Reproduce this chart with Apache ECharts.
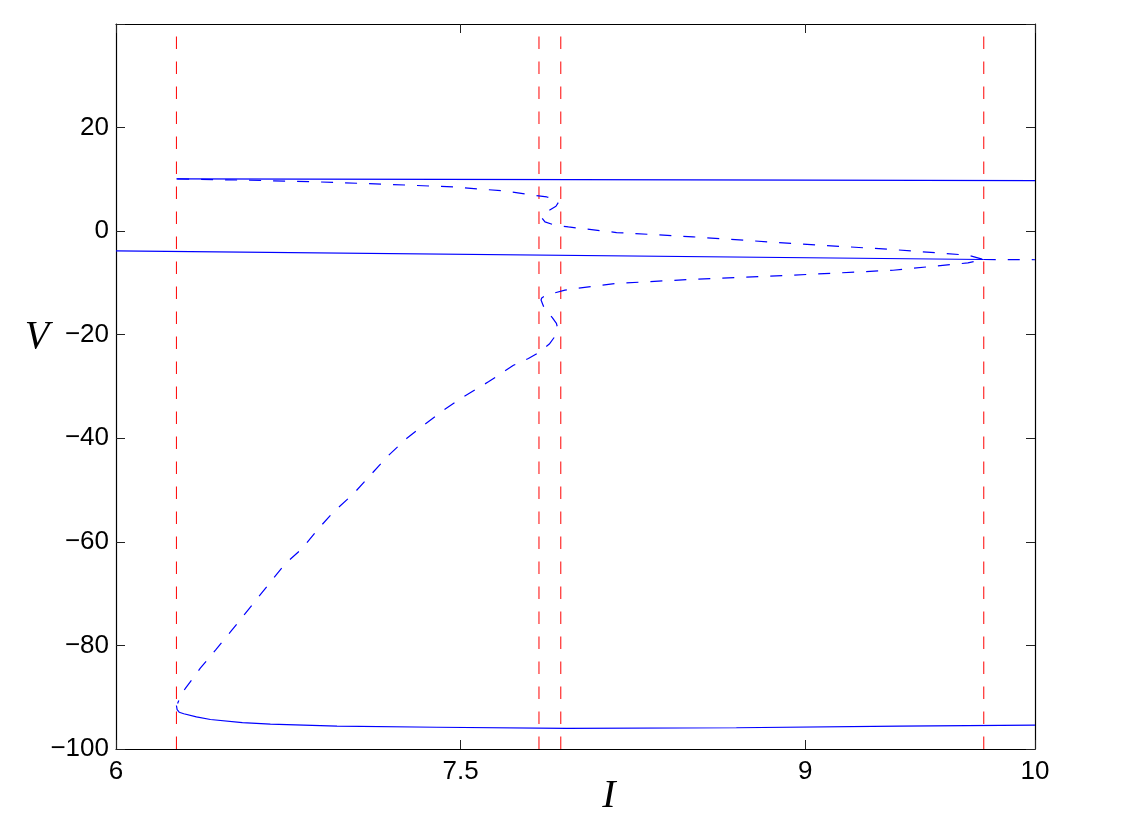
<!DOCTYPE html>
<html>
<head>
<meta charset="utf-8">
<script src="https://cdn.jsdelivr.net/npm/echarts@6/dist/echarts.min.js"></script>
<style>html,body{margin:0;padding:0;background:#fff;}#chart{width:1131px;height:831px;}</style>
</head>
<body>
<div id="chart"></div>
<script>
// Bifurcation parameter values (red dashed lines)
const bifurcationI = [6.263, 7.841, 7.936, 9.777];
// Axis ticks
const xTicks = [6, 7.5, 9, 10];
const yTicks = [-100, -80, -60, -40, -20, 0, 20, 40];
// Stable branches (solid)
const upperStable = [[6.263, 10.1], [8.0, 9.95], [10, 9.77]];
const middleStable = [[6, -3.8], [9.777, -5.48]];
const lowerStable = [[6.263, -91.6], [6.266, -92.4], [6.275, -92.9], [6.295, -93.2], [6.35, -93.8], [6.411, -94.3], [6.55, -94.9], [6.672, -95.2], [6.962, -95.6], [7.397, -95.8], [7.962, -96.0], [8.7, -95.9], [9.41, -95.6], [10, -95.4]];
// Unstable branches (dashed)
const middleUnstable = [[9.777, -5.48], [10, -5.52]];
const unstableMax = [[6.266, 10.08], [6.585, 9.83], [6.889, 9.5], [7.179, 9.05], [7.468, 8.53], [7.686, 7.77], [7.875, 6.6], [7.911, 6.16], [7.926, 5.58], [7.915, 4.81], [7.863, 3.4], [7.852, 2.68], [7.867, 1.78], [7.911, 1.14], [7.969, 0.81], [8.179, -0.27], [8.512, -1.1], [8.947, -2.4], [9.382, -3.55], [9.708, -4.65], [9.777, -5.48]];
const unstableMin = [[9.777, -5.48], [9.708, -6.13], [9.382, -7.55], [8.947, -8.5], [8.512, -9.3], [8.179, -10.1], [7.998, -11.1], [7.954, -11.4], [7.899, -12.05], [7.867, -12.5], [7.853, -12.9], [7.85, -13.3], [7.864, -14.9], [7.899, -16.7], [7.917, -17.8], [7.922, -18.7], [7.911, -20.3], [7.886, -21.8], [7.838, -23.5], [7.795, -24.6], [7.73, -25.9], [7.621, -29.1], [7.512, -32.0], [7.425, -34.6], [7.338, -37.5], [7.266, -40.0], [7.186, -43.3], [7.114, -46.8], [7.034, -50.7], [6.947, -54.2], [6.882, -57.4], [6.81, -61.3], [6.737, -64.2], [6.679, -67.4], [6.621, -70.6], [6.556, -74.2], [6.498, -77.4], [6.433, -80.9], [6.367, -84.4], [6.302, -88.3], [6.288, -89.2], [6.268, -91.2]];

const chart = echarts.init(document.getElementById('chart'), null, {renderer: 'canvas'});
const labelFont = {color: '#000', fontSize: 26, fontFamily: '"Liberation Sans", Arial, Helvetica, sans-serif'};
const fmtNum = v => String(v).replace('-', '\u2212');
const blue = '#0000ff';

function lineSeries(data, dashed, color, width) {
  return {
    type: 'line', data: data, showSymbol: false, symbol: 'none', silent: true,
    animation: false, z: 3,
    lineStyle: {color: color || blue, width: width || 1.2, type: dashed ? [12, 12] : 'solid'}
  };
}

const series = [];
bifurcationI.forEach(v => {
  series.push({type: 'line', data: [[v, -100], [v, 40]], showSymbol: false, symbol: 'none', silent: true, animation: false, z: 2,
    lineStyle: {color: '#ff0000', width: 1, type: [12.5, 12.5]}});
});
series.push(lineSeries(upperStable, false));
series.push(lineSeries(middleStable, false));
series.push(lineSeries(lowerStable, false));
series.push(lineSeries(middleUnstable, true));
series.push(lineSeries(unstableMax.concat(unstableMin.slice(1)), true));

const tickStyle = {inside: true, length: 9, lineStyle: {color: '#222', width: 1}};
chart.setOption({
  animation: false,
  backgroundColor: '#fff',
  grid: {left: 116, top: 24, width: 919, height: 725, containLabel: false},
  xAxis: [
    {type: 'value', min: 6, max: 10, position: 'bottom',
      axisLine: {show: true, onZero: false, lineStyle: {color: '#000', width: 1.2}},
      axisTick: Object.assign({customValues: xTicks}, tickStyle),
      axisLabel: Object.assign({customValues: xTicks, margin: 10, formatter: fmtNum}, labelFont),
      splitLine: {show: false}},
    {type: 'value', min: 6, max: 10, position: 'top',
      axisLine: {show: true, onZero: false, lineStyle: {color: '#000', width: 1.2}},
      axisTick: Object.assign({customValues: xTicks}, tickStyle),
      axisLabel: {show: false}, splitLine: {show: false}}
  ],
  yAxis: [
    {type: 'value', min: -100, max: 40, interval: 20, position: 'left',
      axisLine: {show: true, onZero: false, lineStyle: {color: '#000', width: 1.2}},
      axisTick: Object.assign({customValues: yTicks}, tickStyle),
      axisLabel: Object.assign({customValues: yTicks.filter(v => v < 40), margin: 7, formatter: fmtNum}, labelFont),
      splitLine: {show: false}},
    {type: 'value', min: -100, max: 40, interval: 20, position: 'right',
      axisLine: {show: true, onZero: false, lineStyle: {color: '#000', width: 1.2}},
      axisTick: Object.assign({customValues: yTicks}, tickStyle),
      axisLabel: {show: false}, splitLine: {show: false}}
  ],
  graphic: [
    {type: 'text', x: 37, y: 337, style: {text: 'V', fontSize: 40, fontStyle: 'italic', fontFamily: '"Liberation Serif", "DejaVu Serif", serif', fill: '#000', align: 'center', verticalAlign: 'middle'}},
    {type: 'text', x: 609, y: 796, style: {text: 'I', fontSize: 40, fontStyle: 'italic', fontFamily: '"Liberation Serif", "DejaVu Serif", serif', fill: '#000', align: 'center', verticalAlign: 'middle'}}
  ],
  series: series
});
</script>
</body>
</html>
